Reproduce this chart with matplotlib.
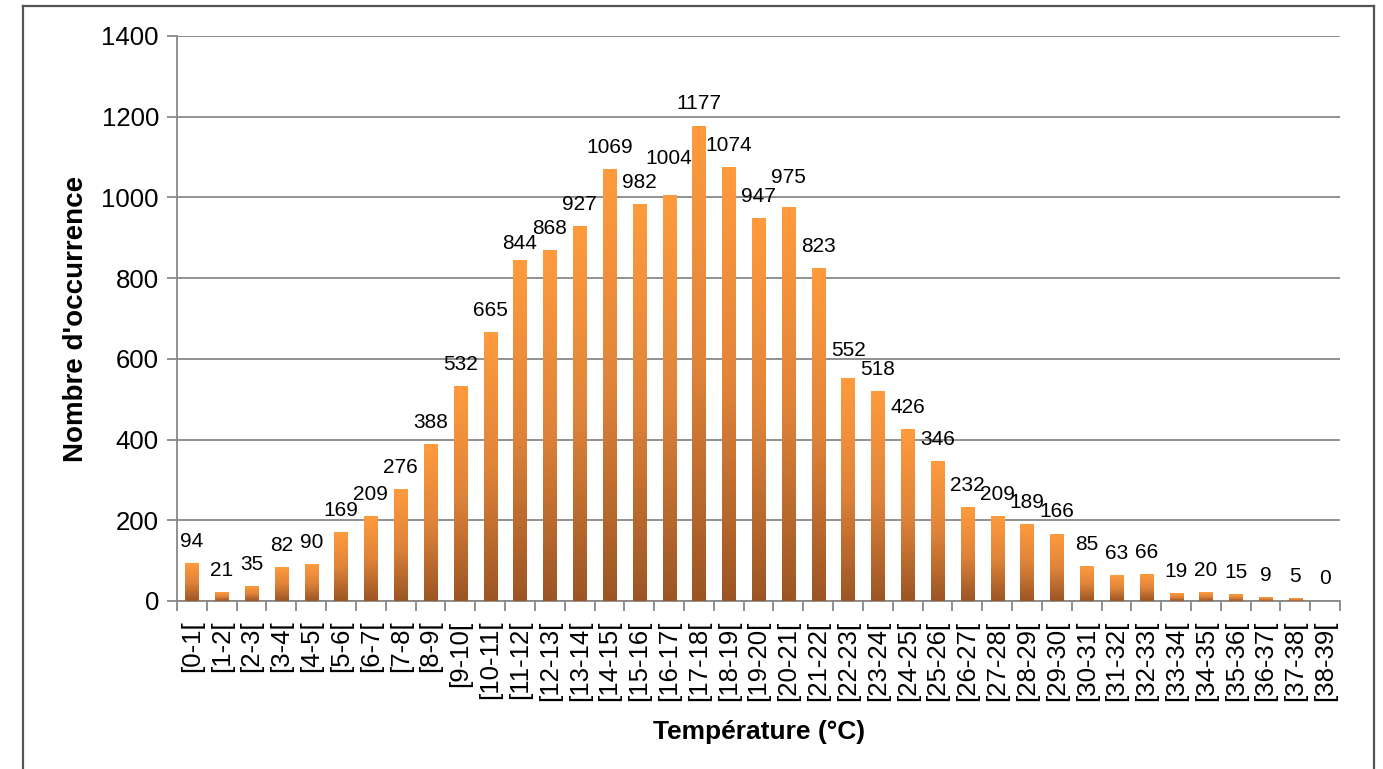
import numpy as np
import matplotlib
matplotlib.use("Agg")
import matplotlib.pyplot as plt
from matplotlib.colors import LinearSegmentedColormap
from matplotlib.lines import Line2D

# Temperature classes and number of occurrences
categories = [f"[{i}-{i+1}[" for i in range(39)]
counts = [94, 21, 35, 82, 90, 169, 209, 276, 388, 532,
          665, 844, 868, 927, 1069, 982, 1004, 1177, 1074, 947,
          975, 823, 552, 518, 426, 346, 232, 209, 189, 166,
          85, 63, 66, 19, 20, 15, 9, 5, 0]

# extra vertical nudge (points) for a few crowded labels
label_nudge = {16: 11, 20: 6, 11: -4, 22: 4}

plt.rcParams["font.family"] = ["Liberation Sans", "DejaVu Sans"]

fig = plt.figure(figsize=(13.83, 7.69), dpi=100)
ax = fig.add_axes([0.128, 0.2185, 0.841, 0.7347])

x = np.arange(len(counts))
width = 0.44
bars = ax.bar(x, counts, width=width, color="none", zorder=3)

cmap = LinearSegmentedColormap.from_list("orange", ["#9b5524", "#e0843a", "#ff9b3d"])
grad = np.linspace(0, 1, 256).reshape(-1, 1)
for b in bars:
    h = b.get_height()
    if h <= 0:
        continue
    x0 = b.get_x()
    ax.imshow(grad, cmap=cmap, origin="lower", aspect="auto",
              extent=(x0, x0 + b.get_width(), 0, h), zorder=3, interpolation="bilinear")

for i, v in enumerate(counts):
    ax.annotate(str(v), (x[i], v), xytext=(0, 9 + label_nudge.get(i, 0)),
                textcoords="offset points", ha="center", va="bottom", fontsize=15)

ax.set_xlim(-0.5, len(counts) - 0.5)
ax.set_ylim(0, 1400)
ax.set_yticks(np.arange(0, 1401, 200))
ax.yaxis.grid(True, color="#888888", linewidth=1.3, zorder=0)
ax.set_axisbelow(True)

ax.set_xticks(x)
ax.set_xticklabels(categories, rotation=90, fontsize=18.5)
ax.set_xticks(np.arange(-0.5, len(counts), 1), minor=True)
ax.tick_params(axis="x", which="major", length=0, pad=14)
ax.tick_params(axis="x", which="minor", length=7, color="#888888", width=1.3)
ax.tick_params(axis="y", length=7, color="#888888", width=1.3, labelsize=18.5, pad=6)

for s in ["top", "right"]:
    ax.spines[s].set_visible(False)
for s in ["left", "bottom"]:
    ax.spines[s].set_color("#888888")
    ax.spines[s].set_linewidth(1.3)

ax.set_xlabel("Température (°C)", fontsize=19, fontweight="bold", labelpad=14)
ax.set_ylabel("Nombre d'occurrence", fontsize=20, fontweight="bold", labelpad=9)

# outer chart frame
fx0, fx1 = 23 / 1383, 1374 / 1383
fy1 = 1 - 6 / 769
frame_kw = dict(color="#555555", linewidth=1.6, transform=fig.transFigure)
fig.add_artist(Line2D([fx0, fx0], [0, fy1], **frame_kw))
fig.add_artist(Line2D([fx0, fx1], [fy1, fy1], **frame_kw))
fig.add_artist(Line2D([fx1, fx1], [0, fy1], **frame_kw))

fig.savefig("out.png", dpi=100)
